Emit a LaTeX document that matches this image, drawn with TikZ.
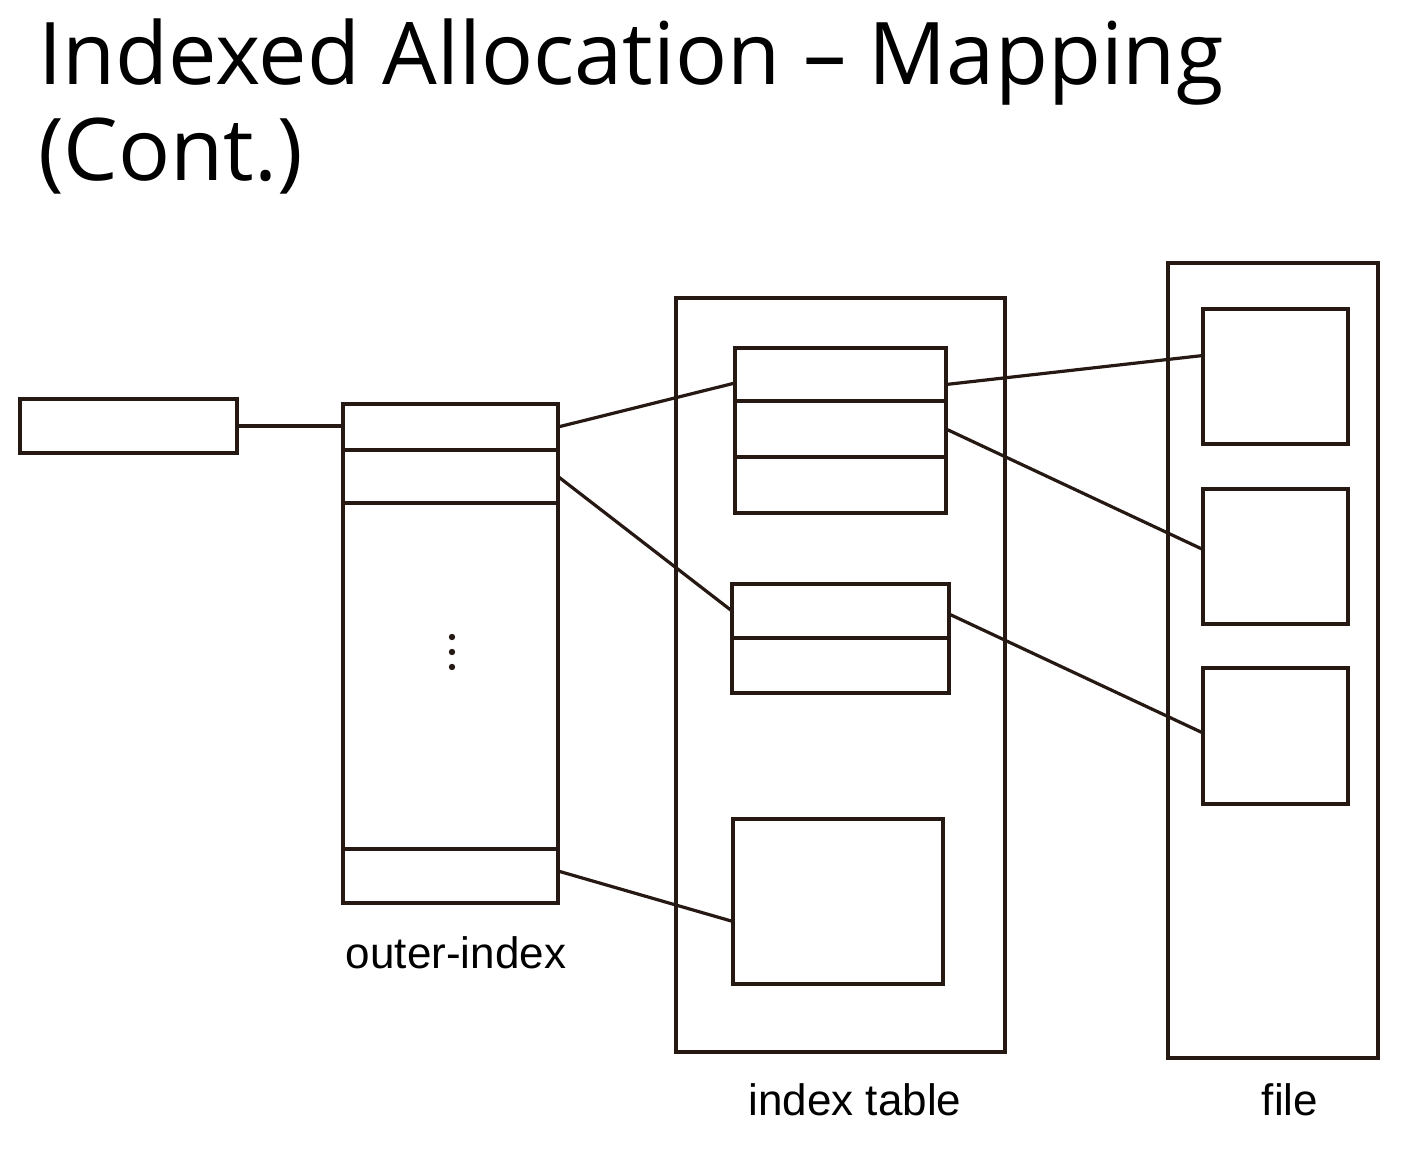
\documentclass[tikz,border=0pt]{standalone}
\usepackage{fontspec}
\setmainfont{Liberation Sans}
\newfontfamily\titlefont{Open Sans}
\definecolor{linebrown}{RGB}{38,24,18}
\begin{document}
\begin{tikzpicture}[x=1pt,y=-1pt,
    box/.style args={#1x#2}{draw=linebrown,line width=3.6pt,minimum width=#1pt,
      minimum height=#2pt,inner sep=0pt,outer sep=0pt},
    wire/.style={linebrown,line width=3.2pt},
    lbl/.style={font=\fontsize{44}{48}\selectfont},
    ttl/.style={anchor=base west,inner sep=0pt,font=\titlefont\fontsize{86.5}{90}\selectfont}]
  \useasboundingbox (0,0) rectangle (1428,1174);
  \node[ttl] (title1) at (38,85) {Indexed Allocation – Mapping};
  \node[ttl] (title2) at (38,181) {(Cont.)};

  % pointer and outer-index
  \node[box=217x54] (ptr) at (128.5,426) {};
  \node[box=215x499] (outer) at (450.5,653.5) {};
  \node[box=215x46] (o1) at (450.5,427) {};
  \node[box=215x53] (o2) at (450.5,476.5) {};
  \node[box=215x54] (on) at (450.5,876) {};
  \foreach \y in {637,652,667}
    \fill[linebrown] (452,\y) circle (3.2);
  \node[lbl] (outerlbl) at (456,953) {outer-index};

  % index table
  \node[box=329x754] (itab) at (840.5,675) {};
  \node[box=211x53] (b11) at (840.5,374.5) {};
  \node[box=211x56] (b12) at (840.5,429) {};
  \node[box=211x56] (b13) at (840.5,485) {};
  \node[box=217x54] (b21) at (840.5,611) {};
  \node[box=217x55] (b22) at (840.5,665.5) {};
  \node[box=210x165] (b3) at (838,901.5) {};
  \node[lbl] (itablbl) at (855,1100) {index table};

  % file
  \node[box=210x795] (file) at (1273,660.5) {};
  \node[box=145x135] (f1) at (1275.5,376.5) {};
  \node[box=145x135] (f2) at (1275.5,556.5) {};
  \node[box=145x136] (f3) at (1275.5,736) {};
  \node[lbl] (filelbl) at (1290,1100) {file};

  % connectors
  \draw[wire] (ptr.east) -- (ptr.east -| o1.west);
  \draw[wire] (o1.east) -- ([yshift=-8.5pt]b11.west);
  \draw[wire] (o2.east) -- (b21.west);
  \draw[wire] ([yshift=5pt]on.east) -- ([yshift=-20pt]b3.west);
  \draw[wire] ([yshift=-10pt]b11.east) -- ([yshift=21pt]f1.west);
  \draw[wire] (b12.east) -- ([yshift=7pt]f2.west);
  \draw[wire] ([yshift=-3pt]b21.east) -- ([yshift=3pt]f3.west);
\end{tikzpicture}
\end{document}
